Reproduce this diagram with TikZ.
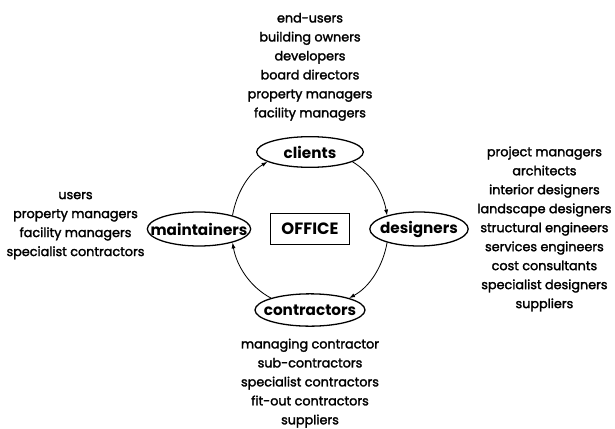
\documentclass[tikz,border=0pt]{standalone}
\usepackage{fontspec}
\setmainfont{Poppins}
\newfontfamily\listfont{Poppins}[FakeBold=2]
\usetikzlibrary{positioning,shapes.geometric,arrows.meta}

\newcommand\rolename[1]{\makebox[0pt]{#1}}
\tikzset{
  role/.style={ellipse,draw,line width=1.1pt,inner sep=0pt,minimum height=1.02cm,font=\fontsize{13}{15}\selectfont\bfseries},
  group/.style={align=center,inner sep=0pt,font=\fontsize{10.9}{16.2}\selectfont\listfont},
  flow/.style={line width=0.7pt,-{Latex[length=5pt,width=3.5pt]},looseness=0.9}
}

\begin{document}
\begin{tikzpicture}
  \useasboundingbox (-9.3,-5.97) rectangle (9.15,6.87);
  \node[rectangle,draw,line width=1.1pt,minimum width=2.35cm,minimum height=0.92cm,font=\fontsize{14}{16}\selectfont\bfseries] (office) {OFFICE};
  \node[role,minimum width=3.2cm,minimum height=0.92cm] (clients) at (0,2.31) {\rolename{clients}};
  \node[role,minimum width=2.95cm] (designers) at (3.27,0) {\rolename{designers}};
  \node[role,minimum width=3.1cm] (maintainers) at (-3.33,0) {\rolename{maintainers}};
  \node[role,minimum width=3.3cm,minimum height=0.97cm] (contractors) at (0,-2.43) {\rolename{contractors}};
  \draw[flow] (clients.-13) to[out=-31,in=100] (designers.157);
  \draw[flow] (designers.-157) to[out=-100,in=28] (contractors.17);
  \draw[flow] (contractors.163) to[out=152,in=-80] (maintainers.-22);
  \draw[flow] (maintainers.22) to[out=80,in=-149] (clients.193);
  \node[group,above=0.45cm of clients] (clientlist) {end-users\\building owners\\developers\\board directors\\property managers\\facility managers};
  \node[group,right=0.25cm of designers] (designerlist) {project managers\\architects\\interior designers\\landscape designers\\structural engineers\\services engineers\\cost consultants\\specialist designers\\suppliers};
  \node[group,left=0.06cm of maintainers,yshift=0.1cm] (maintainerlist) {users\\property managers\\facility managers\\specialist contractors};
  \node[group,below=0.35cm of contractors] (contractorlist) {managing contractor\\sub-contractors\\specialist contractors\\fit-out contractors\\suppliers};
\end{tikzpicture}
\end{document}
